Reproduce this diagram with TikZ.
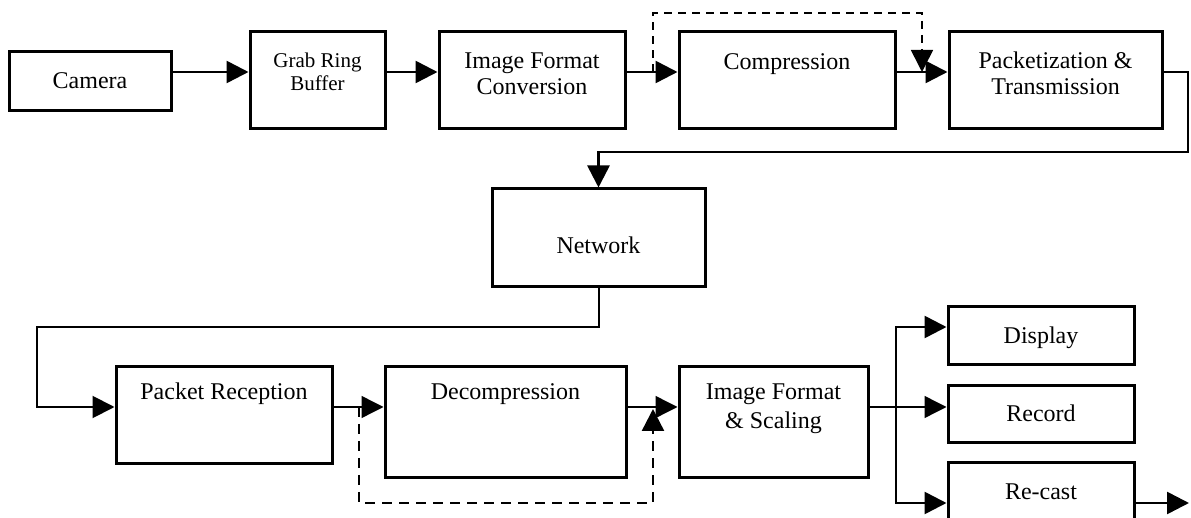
\documentclass[tikz,border=0pt]{standalone}
\usepackage{fontspec}
\setmainfont{Liberation Serif}
\usetikzlibrary{arrows.meta}

\tikzstyle{block}=[rectangle, draw, line width=1.5pt, inner sep=0,
                   anchor=base, align=center, font=\fontsize{12}{13}\selectfont]
\tikzstyle{link}=[-{Triangle[length=11pt, width=11pt]}, line width=1.3pt]
\tikzstyle{thinlink}=[-{Triangle[length=11pt, width=11pt]}, line width=0.7pt]
\tikzstyle{bypass}=[-{Triangle[length=11pt, width=11pt]}, dash pattern=on 4pt off 3pt]

\begin{document}
\begin{tikzpicture}[x=0.5pt, y=-0.5pt]
\useasboundingbox (0,0) rectangle (1191,518);
\clip (0,0) rectangle (1191,518);

%%%%%%%%%%%%%%%%%%%%%%%%%%%%%%
% nodes

% sender
\node (cam) at (90,89) [block, minimum width=81pt, text height=18.5pt, text depth=11pt] {Camera};
\node (grab) at (317.5,91) [block, minimum width=67.5pt, text height=29.5pt, text depth=19pt,
      font=\fontsize{10.5}{11.5}\selectfont] {Grab Ring\\Buffer};
\node (ifc) at (532,95) [block, minimum width=93pt, text height=31.5pt, text depth=17pt] {Image Format\\Conversion};
\node (comp) at (787,70) [block, minimum width=108pt, text height=19pt, text depth=29.5pt] {Compression};
\node (pack) at (1055.5,95) [block, minimum width=106.5pt, text height=31.5pt, text depth=17pt] {Packetization \&\\Transmission};

% network
\node (net) at (598.5,254) [block, minimum width=106.5pt, text height=32.5pt, text depth=16.5pt] {Network};

% receiver
\node (prec) at (224,400) [block, minimum width=108pt, text height=16.5pt, text depth=32pt] {Packet Reception};
\node (dec) at (505.5,400) [block, minimum width=120.5pt, text height=16.5pt, text depth=39pt] {Decompression};
\node (ifs) at (773.5,429) [block, minimum width=94.5pt, text height=31pt, text depth=24.5pt] {Image Format\\[1.5pt]\& Scaling};

% outputs
\node (disp) at (1041,344) [block, minimum width=93pt, text height=18.5pt, text depth=10.5pt] {Display};
\node (rec) at (1041,422) [block, minimum width=93pt, text height=18pt, text depth=10.5pt] {Record};
\node (recast) at (1041,500) [block, minimum width=93pt, text height=18.5pt, text depth=11.5pt] {Re-cast};

%%%%%%%%%%%%%%%%%%%%%%%%%%%%%%
% links

\coordinate (toprow) at (0,72);
\coordinate (botrow) at (0,407);

% sender
\draw [link] (cam.east |- toprow) to (grab.west |- toprow);
\draw [link] (grab.east |- toprow) to (ifc.west |- toprow);
\draw [link] (ifc.east |- toprow) to (comp.west |- toprow);
\draw [link] (comp.east |- toprow) to (pack.west |- toprow);

\coordinate (skip1) at (653,72);
\coordinate (skip2) at (922,72);
\draw [bypass, line width=0.8pt] (skip1) -- ++(0,-59) -| (skip2);

% to and from the network
\coordinate (turn1) at (1188,152);
\draw [link] (pack.east |- toprow) -| (turn1) -| (net.north);

\coordinate (turn2) at (37,327);
\draw [link, line width=1pt] (net.south) |- (turn2) |- (prec.west |- botrow);

% receiver
\draw [thinlink] (prec.east |- botrow) to (dec.west |- botrow);
\draw [thinlink] (dec.east |- botrow) to (ifs.west |- botrow);

\coordinate (skip3) at (359,407);
\coordinate (skip4) at (653,409);
\draw [bypass, line width=1.2pt, dash pattern=on 5pt off 3.5pt] (skip3) -- ++(0,96) -| (skip4);

% outputs
\coordinate (split) at (896,407);
\draw [line width=0.7pt] (ifs.east |- botrow) to (split);
\draw [link] (split) |- ([yshift=4.5pt]disp.west);
\draw [thinlink] (split) to (rec.west |- botrow);
\draw [link] (split) |- ([yshift=-5pt]recast.west);

\coordinate (out) at (1189,503);
\draw [link] ([yshift=-5pt]recast.east) to (out);

\end{tikzpicture}
\end{document}
